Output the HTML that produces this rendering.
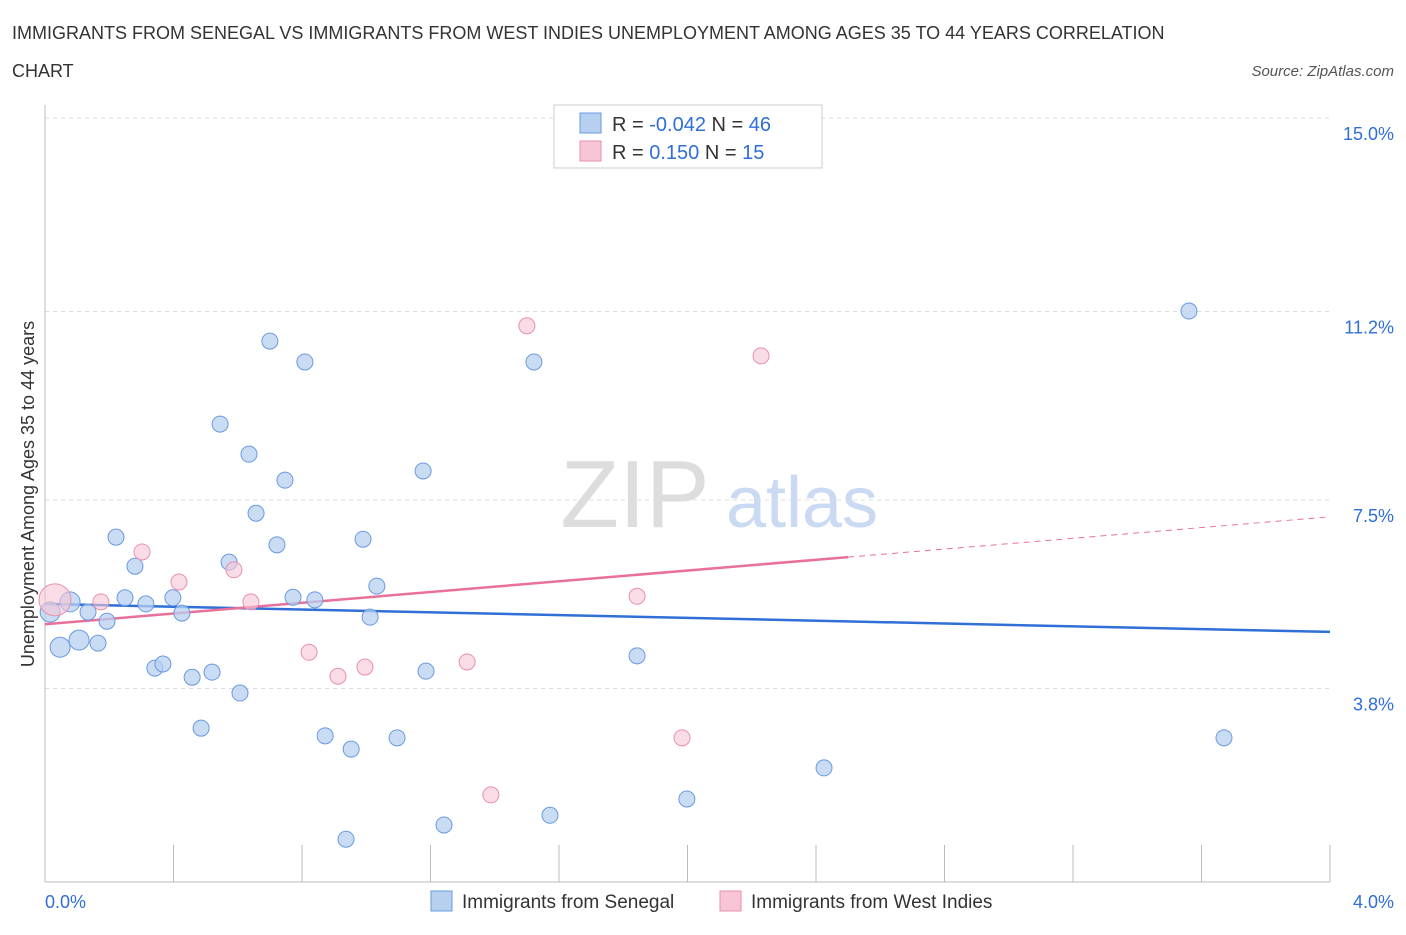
<!DOCTYPE html>
<html><head><meta charset="utf-8"><style>
body{margin:0;background:#fff;font-family:"Liberation Sans",sans-serif;}
svg text{font-family:"Liberation Sans",sans-serif;}
</style></head><body>
<svg id="chart" width="1406" height="930">
<text x="12" y="39" font-size="18" fill="#333">IMMIGRANTS FROM SENEGAL VS IMMIGRANTS FROM WEST INDIES UNEMPLOYMENT AMONG AGES 35 TO 44 YEARS CORRELATION</text>
<text x="12" y="77" font-size="18" fill="#333">CHART</text>
<text x="1394" y="76" font-size="15" fill="#555" font-style="italic" text-anchor="end">Source: ZipAtlas.com</text>
<text x="635" y="527" font-size="96" fill="#ddd" font-family="Liberation Serif" text-anchor="middle">ZIP</text>
<text x="802" y="527" font-size="72" fill="#c9daf2" text-anchor="middle">atlas</text>
<text transform="translate(34,494) rotate(-90)" font-size="18" fill="#333" text-anchor="middle">Unemployment Among Ages 35 to 44 years</text>
<g id="grid"></g><g id="axes"></g><g id="lines"></g><g id="pts"></g>
<g>
<rect x="554" y="105" width="268" height="63" fill="#fff" stroke="#ccc"/>
<rect x="580" y="113" width="21" height="20" fill="#b7d0f0" stroke="#6a9ae0"/>
<rect x="580" y="141" width="21" height="20" fill="#f7c5d5" stroke="#e98fae"/>
<text x="612" y="131" font-size="20" fill="#333">R = <tspan fill="#2f6fd6">-0.042</tspan>   N = <tspan fill="#2f6fd6">46</tspan></text>
<text x="612" y="159" font-size="20" fill="#333">R =   <tspan fill="#2f6fd6">0.150</tspan>   N =  <tspan fill="#2f6fd6">15</tspan></text>
</g>
<g>
<rect x="431" y="891" width="21" height="20" fill="#b7d0f0" stroke="#6a9ae0"/>
<text x="462" y="908" font-size="19" fill="#333">Immigrants from Senegal</text>
<rect x="720" y="891" width="21" height="20" fill="#f7c5d5" stroke="#e98fae"/>
<text x="751" y="908" font-size="19" fill="#333">Immigrants from West Indies</text>
</g>
</svg>
<script>
const yTicks=[15.0,11.2,7.5,3.8];
const yTickLabels=["15.0%","11.2%","7.5%","3.8%"];
const xTickLabels=["0.0%","4.0%"];
const senegalX=[0.016,0.078,0.047,0.106,0.134,0.165,0.193,0.221,0.249,0.280,0.314,0.342,0.367,0.398,0.426,0.458,0.486,0.520,0.545,0.573,0.607,0.635,0.657,0.700,0.722,0.747,0.772,0.809,0.840,0.872,0.953,0.937,0.990,1.012,1.033,1.096,1.177,1.186,1.242,1.522,1.572,1.843,1.998,2.425,3.561,3.670];
const senegalY=[5.30,5.50,4.61,4.75,5.30,4.69,5.12,6.77,5.58,6.20,5.46,4.20,4.28,5.58,5.28,4.02,3.02,4.12,8.99,6.28,3.71,8.40,7.24,10.62,6.62,7.89,5.59,10.21,5.54,2.87,2.61,0.84,6.73,5.20,5.81,2.83,8.07,4.14,1.12,10.21,1.31,4.44,1.63,2.24,11.21,2.83];
const westX=[0.031,0.174,0.302,0.417,0.588,0.641,0.822,0.912,0.996,1.314,1.388,1.500,1.843,1.983,2.229];
const westY=[5.54,5.50,6.48,5.89,6.13,5.50,4.51,4.04,4.22,4.32,1.71,10.92,5.61,2.83,10.33];
const senegalTrend=[5.46,4.91];
const westTrend=[5.06,7.17];
const NS="http://www.w3.org/2000/svg";
const X=v=>45+v*321.25, Y=v=>118+(15-v)*(191/3.75);
function mk(tag,attrs,parent){const e=document.createElementNS(NS,tag);for(const k in attrs)e.setAttribute(k,attrs[k]);document.getElementById(parent).appendChild(e);return e;}
yTicks.forEach((t,i)=>{
 const g=mk('line',{x1:45,x2:1330,y1:Y(t),y2:Y(t),stroke:'#ddd','stroke-dasharray':'4,4'},'grid');
 
 
 const l=mk('text',{x:1394,y:Y(t)+22,'font-size':18,fill:'#2f6fd6','text-anchor':'end'},'grid');l.textContent=yTickLabels[i];
 
 
});
const ax=mk('line',{x1:45,x2:45,y1:105,y2:882,stroke:'#bbb'},'axes');


const bx=mk('line',{x1:45,x2:1330,y1:882,y2:882,stroke:'#bbb'},'axes');


for(let i=0;i<=10;i++){const t=mk('line',{x1:X(i*0.4),x2:X(i*0.4),y1:845,y2:882,stroke:'#bbb'},'axes');
 
 }
const xl0=mk('text',{x:45,y:908,'font-size':18,fill:'#2f6fd6'},'axes');xl0.textContent=xTickLabels[0];


const xl1=mk('text',{x:1394,y:908,'font-size':18,fill:'#2f6fd6','text-anchor':'end'},'axes');xl1.textContent=xTickLabels[1];


senegalX.forEach((x,i)=>{
 const c=mk('circle',{cx:X(x),cy:Y(senegalY[i]),r:i<2?10:(i<4?10:8),fill:'#b7d0f0','fill-opacity':0.75,stroke:'#6a9ae0','stroke-width':1},'pts');
 
 
});
westX.forEach((x,i)=>{
 const c=mk('circle',{cx:X(x),cy:Y(westY[i]),r:i==0?16:8,fill:'#f7c5d5','fill-opacity':0.6,stroke:'#e98fae','stroke-width':1},'pts');
 
 
});
const bl=mk('line',{x1:X(0),y1:Y(senegalTrend[0]),x2:X(4),y2:Y(senegalTrend[1]),stroke:'#2f6fd6','stroke-width':2.5},'lines');


const wm=westTrend[0]+(westTrend[1]-westTrend[0])*2.5/4;
const pl=mk('line',{x1:X(0),y1:Y(westTrend[0]),x2:X(2.5),y2:Y(wm),stroke:'#e8709a','stroke-width':2.5},'lines');


const pd=mk('line',{x1:X(2.5),y1:Y(wm),x2:X(4),y2:Y(westTrend[1]),stroke:'#e8709a','stroke-width':1,'stroke-dasharray':'6,5'},'lines');


</script>
</body></html>
